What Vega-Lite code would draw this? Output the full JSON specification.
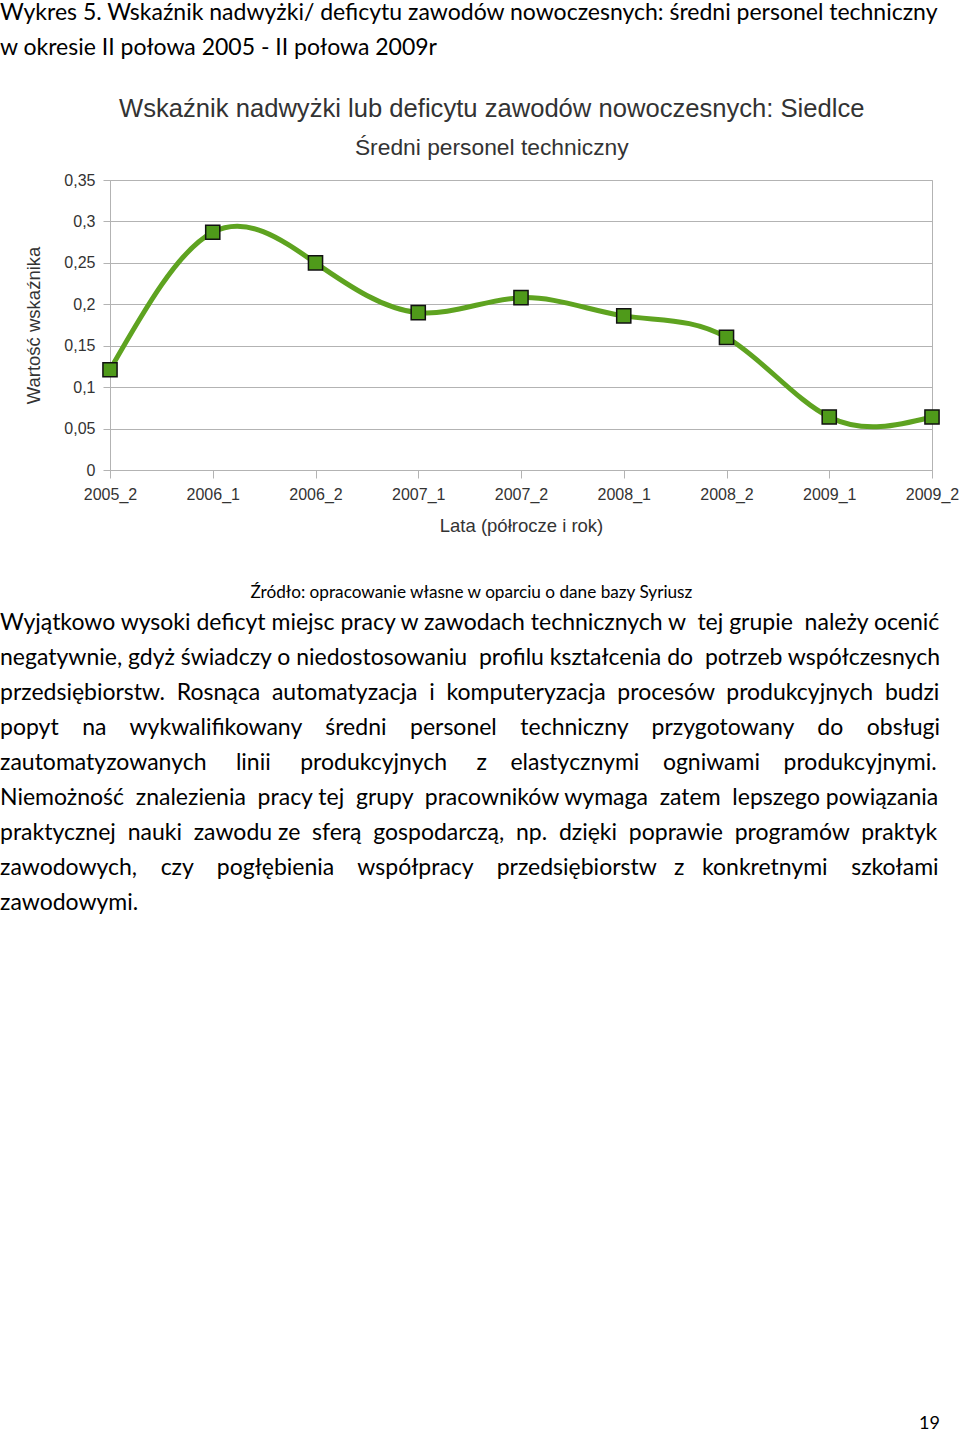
{
  "$schema": "https://vega.github.io/schema/vega-lite/v6.json",
  "padding": {"top": 2, "left": 0, "right": 0, "bottom": 0},
  "background": "white",
  "title": {
    "text": ["Wykres 5. Wskaźnik nadwyżki/ deficytu zawodów nowoczesnych: średni personel techniczny", "w okresie II połowa 2005 - II połowa 2009r"],
    "anchor": "start",
    "frame": "bounds",
    "font": "Lato",
    "fontSize": 23,
    "fontWeight": "normal",
    "lineHeight": 35,
    "color": "#000000",
    "offset": 36
  },
  "spacing": 48,
  "config": {"view": {"stroke": null}},
  "vconcat": [
    {
      "width": 822,
      "height": 290,
      "view": {"stroke": "#b3b3b3"},
      "title": {
        "text": "Wskaźnik nadwyżki lub deficytu zawodów nowoczesnych: Siedlce",
        "subtitle": "Średni personel techniczny",
        "anchor": "middle",
        "frame": "bounds",
        "font": "Liberation Sans",
        "fontSize": 25.6,
        "fontWeight": "normal",
        "color": "#333333",
        "subtitleFont": "Liberation Sans",
        "subtitleFontSize": 22.8,
        "subtitleColor": "#333333",
        "subtitlePadding": 15,
        "offset": 12
      },
      "data": {
        "values": [
          {"okres": "2005_2", "wartosc": 0.121},
          {"okres": "2006_1", "wartosc": 0.287},
          {"okres": "2006_2", "wartosc": 0.250},
          {"okres": "2007_1", "wartosc": 0.190},
          {"okres": "2007_2", "wartosc": 0.208},
          {"okres": "2008_1", "wartosc": 0.186},
          {"okres": "2008_2", "wartosc": 0.160},
          {"okres": "2009_1", "wartosc": 0.064},
          {"okres": "2009_2", "wartosc": 0.064}
        ]
      },
      "encoding": {
        "x": {
          "field": "okres",
          "type": "ordinal",
          "sort": null,
          "scale": {"type": "point", "padding": 0},
          "axis": {
            "title": "Lata (półrocze i rok)",
            "labelAngle": 0,
            "grid": false,
            "domainColor": "#b3b3b3",
            "tickColor": "#b3b3b3",
            "tickSize": 8,
            "labelPadding": 8,
            "labelFont": "Liberation Sans",
            "labelFontSize": 16,
            "labelColor": "#333333",
            "titleFont": "Liberation Sans",
            "titleFontSize": 18.5,
            "titleFontWeight": "normal",
            "titleColor": "#333333",
            "titlePadding": 14
          }
        },
        "y": {
          "field": "wartosc",
          "type": "quantitative",
          "scale": {"domain": [0, 0.35], "nice": false},
          "axis": {
            "title": "Wartość wskaźnika",
            "values": [0, 0.05, 0.1, 0.15, 0.2, 0.25, 0.3, 0.35],
            "labelExpr": "replace(format(datum.value, '.2~f'), '.', ',')",
            "grid": true,
            "gridColor": "#b3b3b3",
            "domainColor": "#b3b3b3",
            "tickColor": "#b3b3b3",
            "tickSize": 7,
            "labelPadding": 8,
            "labelFont": "Liberation Sans",
            "labelFontSize": 16,
            "labelColor": "#333333",
            "titleFont": "Liberation Sans",
            "titleFontSize": 18.5,
            "titleFontWeight": "normal",
            "titleColor": "#333333",
            "titlePadding": 20
          }
        }
      },
      "layer": [
        {"mark": {"type": "line", "interpolate": "natural", "color": "#5ea320", "strokeWidth": 5}},
        {"mark": {"type": "point", "shape": "square", "filled": true, "size": 200, "color": "#4f9a1a", "stroke": "#111111", "strokeWidth": 1.5, "opacity": 1}}
      ]
    },
    {
      "width": 830,
      "height": {"step": 35},
      "title": {
        "text": "Źródło: opracowanie własne w oparciu o dane bazy Syriusz",
        "anchor": "middle",
        "frame": "bounds",
        "font": "Lato",
        "fontSize": 17.2,
        "fontWeight": "normal",
        "color": "#000000",
        "offset": 4
      },
      "data": {
        "values": [
          {"wiersz": 1, "tekst": "Wyjątkowo wysoki deficyt miejsc pracy w zawodach technicznych w \u00a0tej grupie \u00a0należy ocenić"},
          {"wiersz": 2, "tekst": "negatywnie, gdyż świadczy o niedostosowaniu \u00a0profilu kształcenia do \u00a0potrzeb współczesnych"},
          {"wiersz": 3, "tekst": "przedsiębiorstw. \u00a0Rosnąca \u00a0automatyzacja \u00a0i \u00a0komputeryzacja \u00a0procesów \u00a0produkcyjnych \u00a0budzi"},
          {"wiersz": 4, "tekst": "popyt \u00a0\u00a0\u00a0na \u00a0\u00a0\u00a0wykwalifikowany \u00a0\u00a0\u00a0średni \u00a0\u00a0\u00a0personel \u00a0\u00a0\u00a0techniczny \u00a0\u00a0\u00a0przygotowany \u00a0\u00a0\u00a0do \u00a0\u00a0\u00a0obsługi"},
          {"wiersz": 5, "tekst": "zautomatyzowanych \u00a0\u00a0\u00a0\u00a0linii \u00a0\u00a0\u00a0\u00a0produkcyjnych \u00a0\u00a0\u00a0\u00a0z \u00a0\u00a0\u00a0elastycznymi \u00a0\u00a0\u00a0ogniwami \u00a0\u00a0\u00a0produkcyjnymi."},
          {"wiersz": 6, "tekst": "Niemożność \u00a0znalezienia \u00a0pracy tej \u00a0grupy \u00a0pracowników wymaga \u00a0zatem \u00a0lepszego powiązania"},
          {"wiersz": 7, "tekst": "praktycznej \u00a0nauki \u00a0zawodu ze \u00a0sferą \u00a0gospodarczą, \u00a0np. \u00a0dzięki \u00a0poprawie \u00a0programów \u00a0praktyk"},
          {"wiersz": 8, "tekst": "zawodowych, \u00a0\u00a0\u00a0czy \u00a0\u00a0\u00a0pogłębienia \u00a0\u00a0\u00a0współpracy \u00a0\u00a0\u00a0przedsiębiorstw \u00a0\u00a0z \u00a0\u00a0konkretnymi \u00a0\u00a0\u00a0szkołami"},
          {"wiersz": 9, "tekst": "zawodowymi."}
        ]
      },
      "mark": {"type": "text", "align": "left", "baseline": "middle", "font": "Lato", "fontSize": 23, "color": "#000000", "x": 0, "dx": -110},
      "encoding": {
        "y": {"field": "wiersz", "type": "ordinal", "axis": null},
        "text": {"field": "tekst"}
      }
    },
    {
      "width": 830,
      "height": 456,
      "data": {"values": [{"strona": "19"}]},
      "mark": {"type": "text", "align": "right", "baseline": "middle", "font": "Lato", "fontSize": 18, "color": "#000000"},
      "encoding": {
        "x": {"datum": 1, "type": "quantitative", "scale": {"domain": [0, 1]}, "axis": null},
        "y": {"datum": 0, "type": "quantitative", "scale": {"domain": [0, 1]}, "axis": null},
        "text": {"field": "strona"}
      }
    }
  ]
}
